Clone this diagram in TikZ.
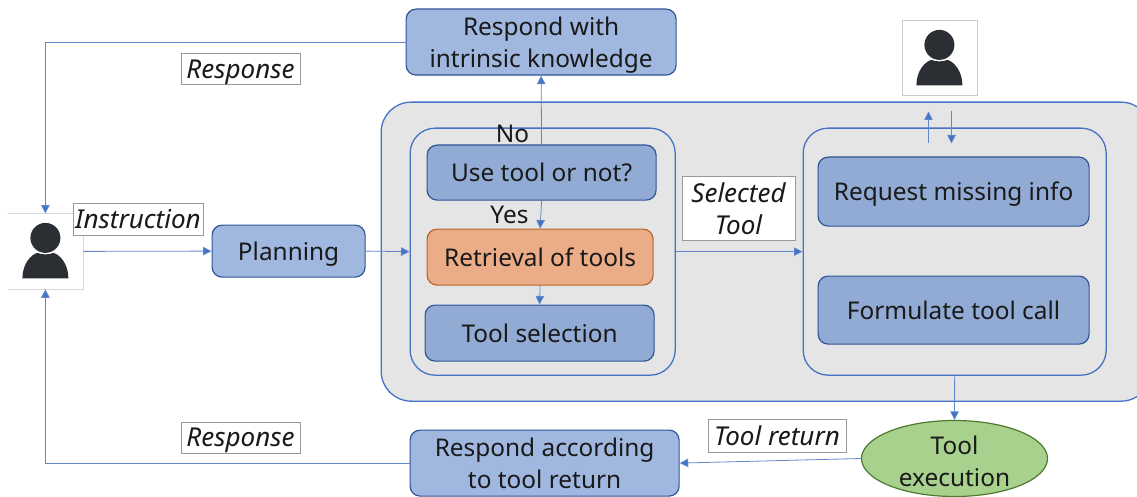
\documentclass[tikz,border=0pt]{standalone}
\usepackage{fontspec}
\setmainfont{Noto Sans}
\usetikzlibrary{arrows.meta,shapes.geometric,calc}
\definecolor{lineblue}{HTML}{4472C4}
\definecolor{boxlight}{HTML}{A0B8E0}
\definecolor{boxdark}{HTML}{92ABD5}
\definecolor{boxedge}{HTML}{2F5597}
\definecolor{orangefill}{HTML}{EBAD88}
\definecolor{orangeedge}{HTML}{B8642A}
\definecolor{greenfill}{HTML}{A9D18E}
\definecolor{greenedge}{HTML}{4E7A30}
\definecolor{panelgray}{HTML}{E5E5E5}
\definecolor{iconblack}{HTML}{2B2F33}
\tikzset{
  x=1pt,y=-1pt,
  bx/.style 2 args={minimum width=#1pt,minimum height=#2pt},
  txt/.style={font=\fontsize{24.4}{32}\selectfont,text=black!90,align=center,inner sep=0pt},
  proc/.style={txt,draw=boxedge,line width=1.2pt,rounded corners=10pt,anchor=north west},
  panel/.style={draw=lineblue,line width=1.3pt,rounded corners=25pt,anchor=north west,inner sep=0pt},
  tag/.style={txt,draw=black!40,fill=white,line width=1pt,anchor=north west,font=\fontsize{26}{32}\selectfont\itshape},
  iconbox/.style={fill=white,line width=.8pt,anchor=north west,minimum width=75pt,minimum height=75pt,inner sep=0pt},
  conn/.style={draw=lineblue!85,line width=.8pt,-{Triangle[length=8.5pt,width=8.5pt,fill=lineblue]}},
}
\newcommand{\personicon}[1]{%
  \fill[iconblack] ($(#1.center)+(0,-13.5)$) circle (15);
  \fill[iconblack] ($(#1.center)+(-23,27)$) -- ($(#1.center)+(23,27)$) .. controls ($(#1.center)+(23,12)$) and ($(#1.center)+(14,3)$) .. ($(#1.center)+(8,1.5)$) .. controls ($(#1.center)+(3,3.5)$) and ($(#1.center)+(-3,3.5)$) .. ($(#1.center)+(-8,1.5)$) .. controls ($(#1.center)+(-14,3)$) and ($(#1.center)+(-23,12)$) .. cycle;
}
\begin{document}
\begin{tikzpicture}
\useasboundingbox (0.5,0.5) rectangle (1137.5,497.5);
\begin{scope}
\clip (0.5,0.5) rectangle (1137.5,497.5);
\node[panel,fill=panelgray,rounded corners=30pt,bx={770}{299}] (outer) at (381,102) {};
\end{scope}
\node[panel,bx={265}{247}] (left) at (410,128) {};
\node[panel,bx={303}{247}] (right) at (803,128) {};

\node[proc,fill=boxlight,bx={270}{66},text depth=-3pt] (intrinsic) at (406,9) {Respond with\\intrinsic knowledge};
\node[proc,fill=boxlight,bx={153}{52},text depth=0pt] (planning) at (212,225) {Planning};
\node[proc,fill=boxdark,bx={229}{55}] (usetool) at (427,145) {Use tool or not?};
\node[proc,fill=orangefill,draw=orangeedge,bx={226}{56}] (retrieval) at (427,229) {Retrieval of tools};
\node[proc,fill=boxdark,bx={229}{56}] (selection) at (425,305) {Tool selection};
\node[proc,fill=boxdark,bx={271}{69},text depth=0pt] (request) at (818,157) {Request missing info};
\node[proc,fill=boxdark,bx={271}{68}] (formulate) at (818,276) {Formulate tool call};
\node[proc,fill=boxlight,bx={269}{66}] (according) at (410,430) {Respond according\\to tool return};
\node[txt,ellipse,draw=greenedge,fill=greenfill,line width=1.2pt,minimum width=186pt,minimum height=76pt,text height=56pt,inner ysep=-4pt] (exec) at (955,459) {Tool\\execution};

\node[iconbox] (userL) at (8,214) {};
\draw[black!15,line width=.8pt] (userL.north west) -- (userL.north east) -- (userL.south east) -- (userL.south west);
\personicon{userL}
\node[iconbox,draw=black!20] (userT) at (902,21) {};
\personicon{userT}

\coordinate (ua) at (929,144);
\coordinate (ub) at (929,112);
\coordinate (da) at (952,112);
\coordinate (db) at (952,144);

\draw[conn] (intrinsic.west) -| (userL.north);
\draw[conn] (according.west) -| (userL.south);
\draw[conn] (userL.east) -- (planning.west);
\draw[conn] (planning.east) -- (left.west);
\draw[conn] (left.east) -- (right.west);
\draw[conn] (usetool.north) -- (intrinsic.south);
\draw[conn] (usetool.south) -- (retrieval.north);
\draw[conn] (retrieval.south) -- (selection.north);
\draw[conn] (right.south) -- (exec.north);
\draw[conn] (exec.west) -- (according.east);
\draw[conn] (ua) -- (ub);
\draw[conn] (da) -- (db);

\node[tag,bx={119}{31},text depth=0pt] (tagA) at (181,54) {Response};
\node[tag,bx={130}{32}] (tagB) at (73,203) {Instruction};
\node[tag,bx={113}{63}] (tagC) at (682,177) {Selected\\Tool};
\node[tag,bx={119}{31},text depth=0pt] (tagD) at (181,422) {Response};
\node[tag,bx={138}{33}] (tagE) at (708,419) {Tool return};

\node[txt] (no) at (513,134) {No};
\node[txt] (yes) at (510,215) {Yes};
\end{tikzpicture}
\end{document}
